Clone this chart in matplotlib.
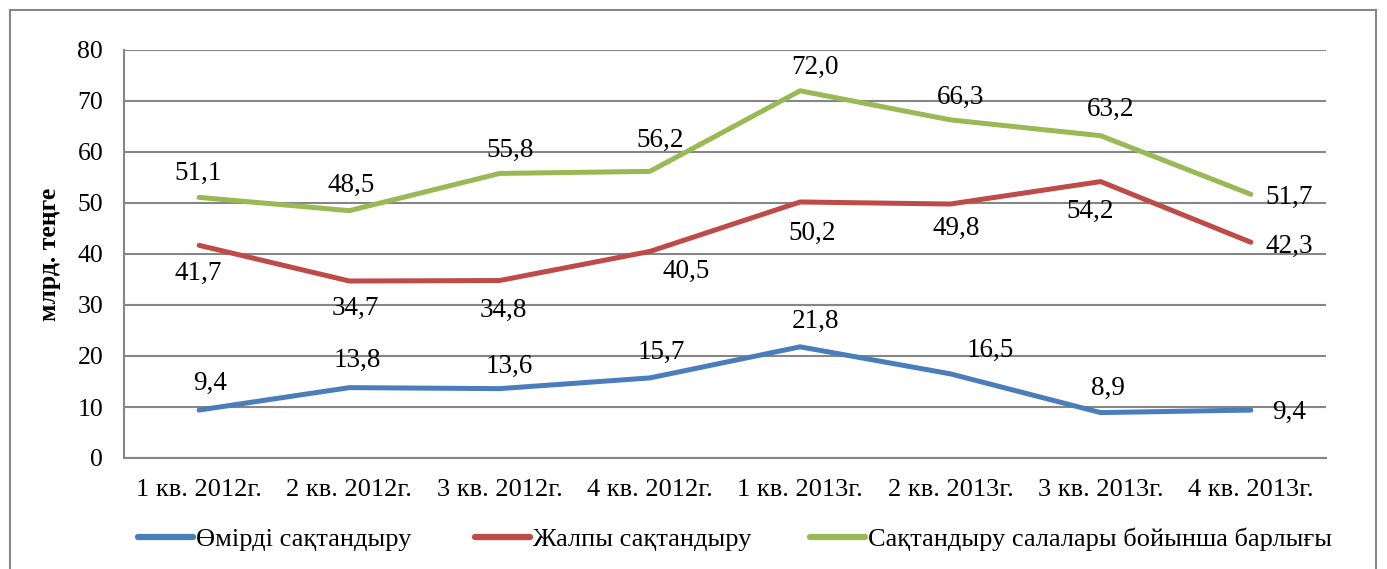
import matplotlib
matplotlib.use('Agg')
import matplotlib.pyplot as plt
from matplotlib.patches import Rectangle
from matplotlib.lines import Line2D

plt.rcParams['font.family'] = ['Liberation Serif', 'DejaVu Serif']

# Data
quarters = ['1 кв. 2012г.', '2 кв. 2012г.', '3 кв. 2012г.', '4 кв. 2012г.',
            '1 кв. 2013г.', '2 кв. 2013г.', '3 кв. 2013г.', '4 кв. 2013г.']
life = [9.4, 13.8, 13.6, 15.7, 21.8, 16.5, 8.9, 9.4]
general = [41.7, 34.7, 34.8, 40.5, 50.2, 49.8, 54.2, 42.3]
total = [51.1, 48.5, 55.8, 56.2, 72.0, 66.3, 63.2, 51.7]
series_names = ['Өмірді сақтандыру', 'Жалпы сақтандыру',
                'Сақтандыру салалары бойынша барлығы']

colors = ['#4A7EBB', '#BE4B48', '#98B954']

# label offsets in pixels (dx, dy) relative to each point
life_off = [(11, 27), (8, 27), (10, 22), (11, 26), (15, 25), (40, 23), (7, 24), (38, -2)]
gen_off = [(-1, -28), (6, -27), (4, -30), (36, -20), (12, -31), (6, -24), (-10, -30), (38, -4)]
tot_off = [(-1, 24), (2, 25), (10, 23), (10, 31), (15, 23), (10, 22), (10, 26), (38, -3)]

fig = plt.figure(figsize=(13.87, 5.69), dpi=100)
ax = fig.add_axes([124 / 1387, 1 - 458 / 569, 1202 / 1387, 408 / 569])

# outer border
fig.patches.append(Rectangle((10 / 1387, -0.1), 1366 / 1387, 1.1 - 10 / 569,
                             transform=fig.transFigure, fill=False,
                             edgecolor='#868686', linewidth=1.5))

x = list(range(len(quarters)))
for vals, offs, col, name in [(life, life_off, colors[0], series_names[0]),
                              (general, gen_off, colors[1], series_names[1]),
                              (total, tot_off, colors[2], series_names[2])]:
    ax.plot(x, vals, color=col, linewidth=3.6, solid_capstyle='round', label=name)
    for xi, v, (dx, dy) in zip(x, vals, offs):
        ax.annotate(f"{v:.1f}".replace('.', ','), (xi, v), xytext=(dx, dy),
                    textcoords='offset pixels', ha='center', va='center',
                    fontsize=19.5)

ax.set_xlim(-0.5, 7.5)
ax.set_ylim(0, 80)
ax.set_yticks(range(0, 81, 10))
ax.set_xticks(x)
ax.set_xticklabels(quarters)
ax.tick_params(axis='y', length=0, pad=15, labelsize=18.5)
ax.tick_params(axis='x', length=0, pad=15, labelsize=19)
ax.grid(axis='y', color='#868686', linewidth=1.5)
ax.set_axisbelow(True)
for s in ['top', 'right']:
    ax.spines[s].set_visible(False)
for s in ['left', 'bottom']:
    ax.spines[s].set_color('#868686')
    ax.spines[s].set_linewidth(1.5)

ax.set_ylabel('млрд. теңге', fontsize=18.5, fontweight='bold', labelpad=12)

# legend entries placed one by one (uneven spacing as in the original)
leg_x = [138 / 1387, 475 / 1387, 810 / 1387]
for name, col, lx in zip(series_names, colors, leg_x):
    h = Line2D([], [], color=col, linewidth=4.5, solid_capstyle='round')
    fig.legend([h], [name], loc='center left', bbox_to_anchor=(lx, 1 - 539 / 569),
               frameon=False, fontsize=19, handlelength=2.1,
               handletextpad=0.1, borderpad=0, borderaxespad=0)

fig.savefig('out.png', dpi=100)
